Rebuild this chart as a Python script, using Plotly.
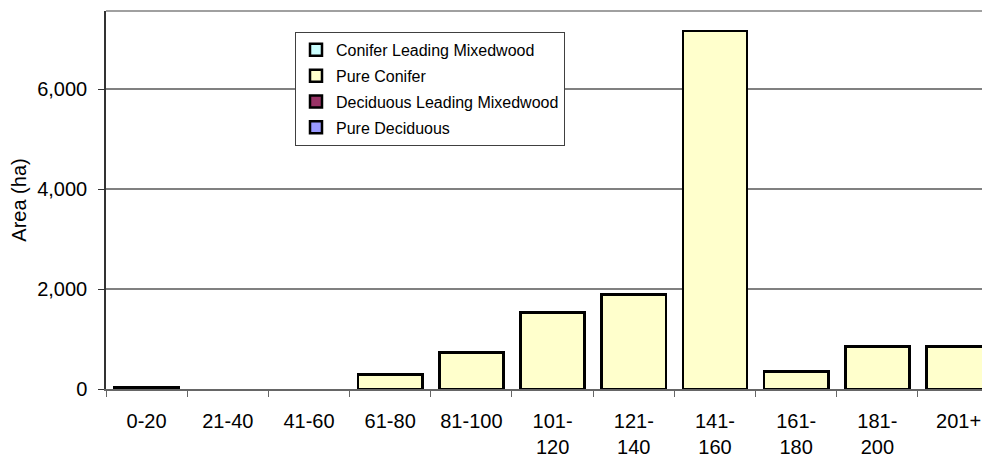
import plotly.graph_objects as go

categories = ["0-20", "21-40", "41-60", "61-80", "81-100", "101-120",
              "121-140", "141-160", "161-180", "181-200", "201+"]
tick_labels = ["0-20", "21-40", "41-60", "61-80", "81-100", "101-<br>120",
               "121-<br>140", "141-<br>160", "161-<br>180", "181-<br>200", "201+"]

conifer_leading_mixedwood = [None] * 11
pure_conifer = [30, None, None, 290, 730, 1530, 1890, 7170, 350, 850, 850]
deciduous_leading_mixedwood = [None] * 11
pure_deciduous = [None] * 11

series = [
    ("Conifer Leading Mixedwood", conifer_leading_mixedwood, "#CCFFFF"),
    ("Pure Conifer", pure_conifer, "#FFFFCC"),
    ("Deciduous Leading Mixedwood", deciduous_leading_mixedwood, "#993366"),
    ("Pure Deciduous", pure_deciduous, "#9999FF"),
]

FONT = "Liberation Sans, Arial, sans-serif"

# page body adds an 8px offset; figure sized to fit the 990x462 window
W, H = 982, 454
L, T, B = 98, 3, 72.5
plot_w = W - L
plot_h = H - T - B

fig = go.Figure()
for name, vals, col in series:
    fig.add_trace(go.Bar(
        x=categories, y=vals, name=name, legendgroup=name,
        marker=dict(color=col, line=dict(color="black", width=2.5)),
    ))

fig.update_layout(
    width=W, height=H,
    margin=dict(l=L, r=0, t=T, b=B, pad=0),
    paper_bgcolor="white", plot_bgcolor="white",
    barmode="stack", bargap=0.21,
    font=dict(family=FONT, size=20, color="black"),
    showlegend=True,
    legend=dict(
        x=(295 - 106) / plot_w, y=(389.5 - 32) / plot_h,
        xanchor="left", yanchor="top",
        bgcolor="white", bordercolor="#404040", borderwidth=1,
        font=dict(family=FONT, size=16, color="black"),
        traceorder="grouped", tracegroupgap=2,
    ),
    xaxis=dict(
        type="category", range=[-0.5, 10.387], automargin=False,
        tickmode="array", tickvals=categories, ticktext=tick_labels,
        tickson="boundaries", ticks="outside", ticklen=6, tickcolor="#666666",
        showline=True, linecolor="#666666", linewidth=1.5,
        showgrid=False, tickfont=dict(size=20), ticklabelstandoff=13,
    ),
    yaxis=dict(
        range=[0, 7570], dtick=2000, tickformat=",", automargin=False,
        ticks="outside", ticklen=6, tickcolor="#333333",
        showline=True, linecolor="#333333", linewidth=1.5,
        showgrid=True, gridcolor="#808080", gridwidth=1.5,
        zeroline=False, tickfont=dict(size=20), ticklabelstandoff=7,
        title=dict(text="Area (ha)", font=dict(size=20), standoff=14),
    ),
)
# plot-area top border
fig.add_shape(type="line", xref="paper", yref="paper", x0=0, x1=1, y0=1, y1=1,
              line=dict(color="#808080", width=1.5))

fig.write_html("out.html")
